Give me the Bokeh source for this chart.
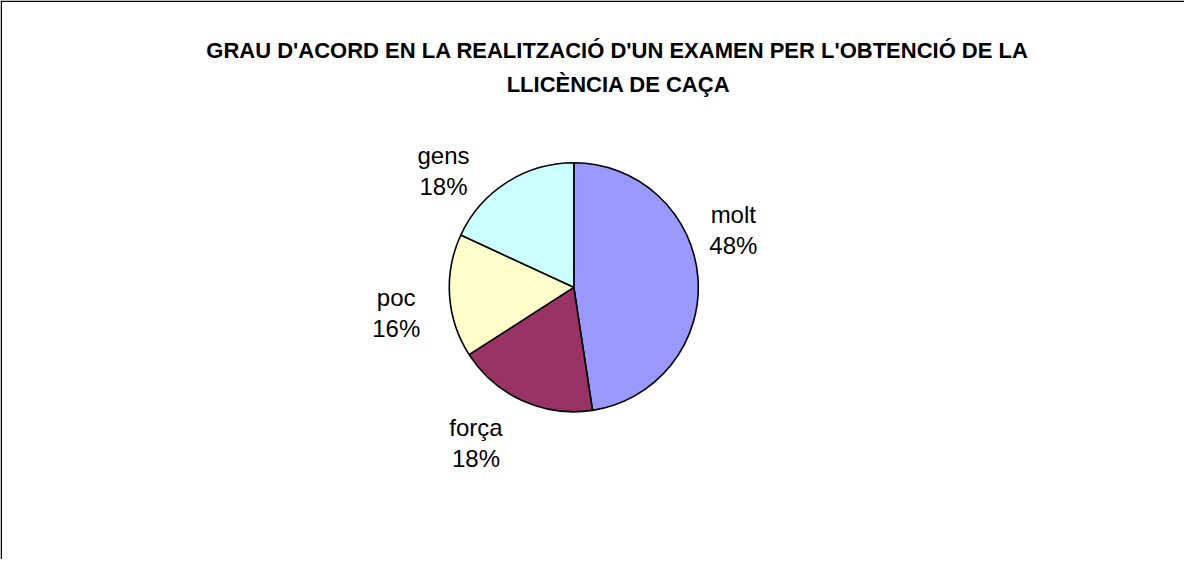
import math
from bokeh.plotting import figure
from bokeh.models import ColumnDataSource, Range1d, Span
from bokeh.core.properties import value
from bokeh.embed import file_html
from bokeh.resources import INLINE

# ---- data ----
categories = ["molt", "força", "poc", "gens"]
shares = [47.6, 18.3, 16.0, 18.1]
colors = ["#9999FF", "#993366", "#FFFFCC", "#CCFFFF"]
title_lines = ["GRAU D'ACORD EN LA REALITZACIÓ D'UN EXAMEN PER L'OBTENCIÓ DE LA",
               "LLICÈNCIA DE CAÇA"]

# ---- layout ----
W, H = 1184, 559
CX, CY, R = 573.3, 272.2, 124.5
RL = 177.0
label_dx = [-17, -25, -1, -35]
label_dy = [-52, -14, 5, 25]
FONT = "Liberation Sans"

p = figure(width=W, height=H, x_range=Range1d(0, W), y_range=Range1d(0, H),
           output_backend="svg", toolbar_location=None, min_border=0,
           x_axis_location=None, y_axis_location=None)
p.grid.visible = False
p.outline_line_color = None
p.background_fill_color = "white"
p.border_fill_color = "white"

# border (left and top visible; chart area extends beyond window)
p.add_layout(Span(location=0.75, dimension="height", line_color="black", line_width=1.5))
p.add_layout(Span(location=H - 0.75, dimension="width", line_color="black", line_width=1.5))

total = sum(shares)
cum = 0.0
starts, ends, mids = [], [], []
for v in shares:
    a0 = math.pi / 2 - 2 * math.pi * cum / total
    cum += v
    a1 = math.pi / 2 - 2 * math.pi * cum / total
    starts.append(a0)
    ends.append(a1)
    mids.append((a0 + a1) / 2)

src = ColumnDataSource(dict(cat=categories, start=starts, end=ends, color=colors))
p.wedge(x=CX, y=CY, radius=R, start_angle="start", end_angle="end", direction="clock",
        fill_color="color", line_color="black", line_width=1.6, source=src)

lx = [CX + RL * math.cos(m) for m in mids]
ly = [CY + RL * math.sin(m) for m in mids]
lab = ColumnDataSource(dict(
    x=lx,
    yn=[y + 7.5 for y in ly],
    yp=[y - 23.5 for y in ly],
    name=categories,
    pct=[f"{round(v / total * 100)}%" for v in shares],
    dx=label_dx, dy=label_dy,
))
p.text(x="x", y="yn", text="name", x_offset="dx", y_offset="dy", source=lab,
       text_align="center", text_baseline="alphabetic", text_font=value(FONT),
       text_font_size="24px", text_color="black")
p.text(x="x", y="yp", text="pct", x_offset="dx", y_offset="dy", source=lab,
       text_align="center", text_baseline="alphabetic", text_font=value(FONT),
       text_font_size="24px", text_color="black")

# title
p.text(x=[617, 618], y=[509, 475.3], text=title_lines,
       text_align="center", text_baseline="alphabetic", text_font=value(FONT),
       text_font_style="bold", text_font_size="22px", text_color="black")

open("out.html", "w").write(file_html(p, INLINE))
